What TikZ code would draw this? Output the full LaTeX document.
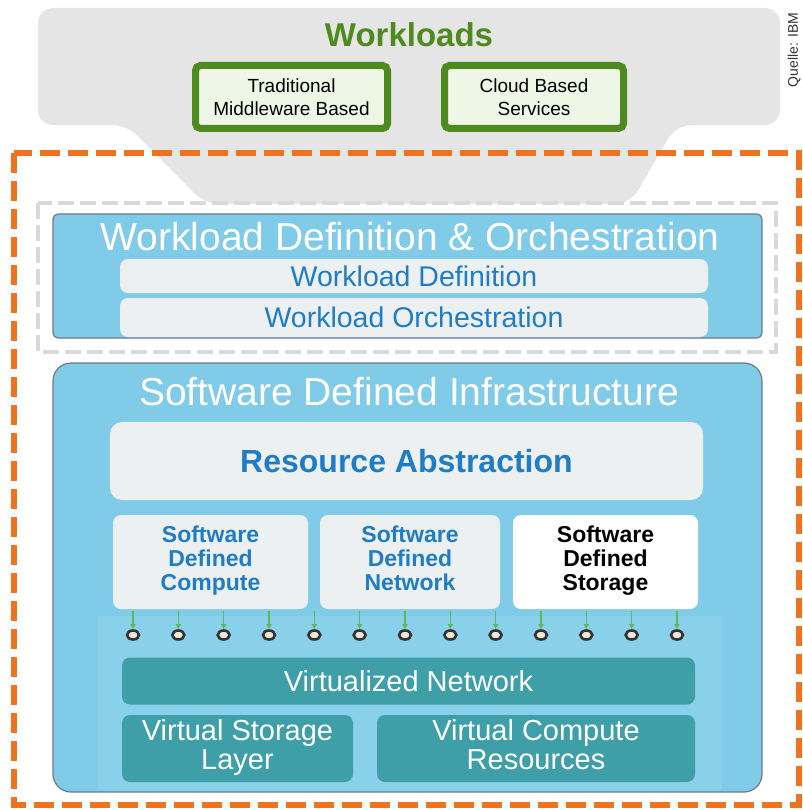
\documentclass[tikz,border=0pt]{standalone}
\usepackage{fontspec}
\setmainfont{Liberation Sans}
\usetikzlibrary{shapes.geometric,arrows.meta}

\definecolor{wlgreen}{HTML}{4E8A1E}
\definecolor{wlpale}{HTML}{EEF6E6}
\definecolor{funnelgray}{HTML}{E5E5E5}
\definecolor{dashgray}{HTML}{D9D9D9}
\definecolor{sdorange}{HTML}{F2711C}
\definecolor{skyfill}{HTML}{80CBE8}
\definecolor{skyband}{HTML}{89D0EB}
\definecolor{boxline}{HTML}{6B7C84}
\definecolor{barfill}{HTML}{EDF0F1}
\definecolor{bluetext}{HTML}{1E7DC6}
\definecolor{tealbar}{HTML}{3E9FA8}
\definecolor{arrowgreen}{HTML}{5DB85A}
\definecolor{portfill}{HTML}{EFE9D6}

\newcommand{\fsz}[2]{\fontsize{#1}{#2}\selectfont}

\begin{document}
\begin{tikzpicture}[x=1pt,y=-1pt,
    strutted/.style={execute at begin node=\strut,execute at end node=\strut},
    wlbox/.style={draw=wlgreen,line width=7pt,fill=wlpale,rounded corners=5pt,minimum height=63pt,inner sep=0pt,align=center,font=\fsz{19}{23}},
    layer/.style={draw=boxline,line width=1.2pt,fill=skyfill,inner sep=0pt},
    bar/.style={fill=barfill,rounded corners=8pt,inner sep=0pt,text=bluetext},
    sdbox/.style={fill=barfill,rounded corners=8pt,inner sep=0pt,minimum height=94pt,align=center,text=bluetext,font=\bfseries\fsz{23}{24},strutted},
    vbar/.style={fill=tealbar,rounded corners=8pt,inner sep=0pt,align=center,text=white,font=\fsz{29}{29}},
    port/.style={ellipse,draw=black!80,line width=2.6pt,fill=portfill,minimum width=12pt,minimum height=9pt,inner sep=0pt},
    title/.style={text=white,font=\fsz{39}{44}}]

      \useasboundingbox (0,0) rectangle (802,810);

      % workloads funnel
      \fill[funnelgray,rounded corners=15pt] (38,8) -- (780,8) -- (780,125) -- (676,125) -- (630,204) -- (205,204) -- (127,125) -- (38,125) -- cycle;

      \node[text=wlgreen,font=\bfseries\fsz{33}{38}] (wl) at (409,35) {Workloads};
      \node[wlbox,minimum width=192pt] (trad) at (291.5,97) {Traditional\\Middleware Based};
      \node[wlbox,minimum width=179pt] (cloud) at (534,97) {Cloud Based\\Services};

      \node[rotate=90,text=black!80,font=\fsz{14}{16}] (src) at (794,50) {Quelle: IBM};

      \draw[sdorange,line width=6pt,dash pattern=on 20pt off 8pt] (14,153) rectangle (799,805);
      \draw[dashgray,line width=4pt,dash pattern=on 16pt off 6pt] (38,203) rectangle (776,352);

      % workload definition & orchestration
      \node[layer,rounded corners=5pt,minimum width=709pt,minimum height=124pt] (wdo) at (407.5,276) {};
      \node[title] (wdot) at (410,237) {Workload Definition \& Orchestration};
      \node[bar,minimum width=588pt,minimum height=34pt,font=\fsz{28.5}{30}] (wd) at (414,276) {Workload Definition};
      \node[bar,minimum width=588pt,minimum height=39pt,font=\fsz{28.5}{30}] (wo) at (414,317.5) {Workload Orchestration};

      % software defined infrastructure
      \node[layer,rounded corners=18pt,minimum width=709pt,minimum height=429pt] (sdi) at (407.5,577.5) {};
      \fill[skyband] (98,616) rectangle (722,790);
      \node[title] (sdit) at (409,392) {Software Defined Infrastructure};
      \node[bar,rounded corners=12pt,minimum width=593pt,minimum height=78pt,font=\bfseries\fsz{32}{36}] (ra) at (406.5,461) {Resource Abstraction};

      \node[sdbox,minimum width=195pt] (sdc) at (210.5,562) {Software\\Defined\\Compute};
      \node[sdbox,minimum width=180pt] (sdn) at (410,562) {Software\\Defined\\Network};
      \node[sdbox,minimum width=185pt,fill=white,text=black] (sds) at (605.5,562) {Software\\Defined\\Storage};

      \foreach \i in {1,...,13}{
        \node[port] (c\i) at ({133+45.33*(\i-1)},635) {};
        \coordinate (t\i) at ({133+45.33*(\i-1)},611);
        \draw[-{Latex[length=5pt,width=6pt]},arrowgreen,line width=1.6pt] (t\i) -- (c\i);
      }

      \node[vbar,minimum width=573pt,minimum height=47pt] (vn) at (408.5,681) {Virtualized Network};
      \node[vbar,strutted,minimum width=231pt,minimum height=67pt] (vs) at (237.5,748.5) {Virtual Storage\\Layer};
      \node[vbar,strutted,minimum width=318pt,minimum height=67pt] (vc) at (536,748.5) {Virtual Compute\\Resources};

\end{tikzpicture}
\end{document}
